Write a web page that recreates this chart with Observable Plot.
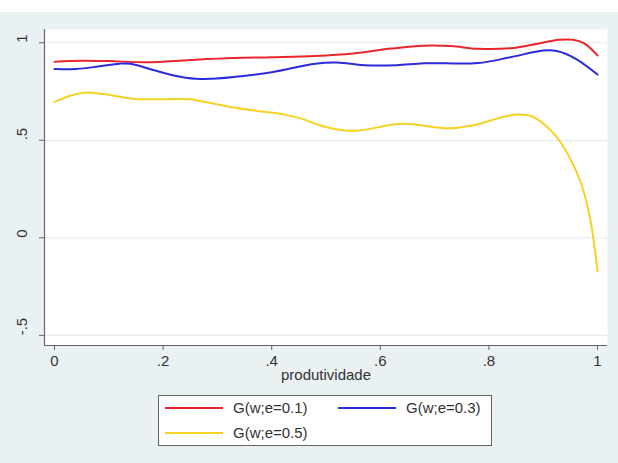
<!DOCTYPE html>
<html>
<head>
<meta charset="utf-8">
<script src="https://cdn.jsdelivr.net/npm/d3@7"></script>
<script src="https://cdn.jsdelivr.net/npm/@observablehq/plot@0.6"></script>
<style>
  html, body { margin: 0; padding: 0; background: #ffffff; }
  #wrap { position: absolute; left: 0; top: 12px; width: 618px; height: 451px; background: #eaf1f3; font-family: "Liberation Sans", Arial, sans-serif; }
  #legend { position: absolute; left: 158px; top: 383px; width: 334px; height: 51px; background: #fff; border: 1px solid #666; box-sizing: border-box; font-size: 15px; color: #333; }
  .item { position: absolute; display: flex; align-items: center; }
  .sw { width: 58px; height: 2px; margin-right: 10px; }
</style>
</head>
<body>
<div id="wrap"><div id="chart"></div><div id="legend"></div></div>
<script>
// Data
const seriesNames = ["G(w;e=0.1)", "G(w;e=0.3)", "G(w;e=0.5)"];
const seriesColors = ["#e8262c", "#2b2bdc", "#f6d126"];

const xRed = [0, 0.05, 0.1, 0.17, 0.25, 0.33, 0.4, 0.48, 0.55, 0.62, 0.68, 0.73, 0.78, 0.84, 0.88, 0.93, 0.955, 0.975, 1.0];
const yRed = [0.903, 0.908, 0.906, 0.900, 0.912, 0.922, 0.926, 0.932, 0.945, 0.970, 0.985, 0.983, 0.969, 0.972, 0.990, 1.015, 1.015, 0.998, 0.935];

const xBlue = [0, 0.04, 0.08, 0.12, 0.14, 0.18, 0.22, 0.26, 0.29, 0.33, 0.4, 0.48, 0.52, 0.57, 0.63, 0.68, 0.78, 0.84, 0.9, 0.925, 0.96, 1.0];
const yBlue = [0.865, 0.866, 0.878, 0.893, 0.892, 0.862, 0.832, 0.815, 0.816, 0.825, 0.849, 0.893, 0.899, 0.885, 0.885, 0.895, 0.896, 0.926, 0.960, 0.958, 0.918, 0.837];

const xYellow = [0, 0.03, 0.06, 0.09, 0.15, 0.25, 0.28, 0.33, 0.38, 0.41, 0.45, 0.49, 0.53, 0.56, 0.64, 0.72, 0.77, 0.82, 0.85, 0.88, 0.92, 0.945, 0.97, 0.987, 1.0];
const yYellow = [0.696, 0.730, 0.745, 0.737, 0.712, 0.710, 0.695, 0.668, 0.648, 0.639, 0.615, 0.576, 0.552, 0.550, 0.585, 0.562, 0.576, 0.615, 0.632, 0.622, 0.533, 0.431, 0.277, 0.089, -0.171];

const xTicks = [0, 0.2, 0.4, 0.6, 0.8, 1];
const xTickLabels = ["0", ".2", ".4", ".6", ".8", "1"];
const yTicks = [-0.5, 0, 0.5, 1];
const yTickLabels = ["-.5", "0", ".5", "1"];
const xTitle = "produtividade";

const xDomain = [-0.0184, 1.0184];
const yDomain = [-0.552, 1.068];

const rows = [];
[[xRed, yRed], [xBlue, yBlue], [xYellow, yYellow]].forEach(([xs, ys], s) => {
  xs.forEach((x, i) => rows.push({series: seriesNames[s], x, y: ys[i]}));
});

const chart = Plot.plot({
  width: 618,
  height: 451,
  marginTop: 17,
  marginLeft: 44,
  marginRight: 11,
  marginBottom: 118,
  style: {background: "#eaf1f3", fontFamily: "Liberation Sans, Arial, sans-serif", fontSize: "15px", color: "#333"},
  x: {domain: xDomain},
  y: {domain: yDomain},
  color: {domain: seriesNames, range: seriesColors},
  marks: [
    Plot.frame({fill: "#ffffff", stroke: null}),
    Plot.ruleY(yTicks, {stroke: "#e6eced", strokeWidth: 1.2}),
    Plot.line(rows, {x: "x", y: "y", z: "series", stroke: "series", strokeWidth: 2, curve: "catmull-rom"}),
    Plot.ruleX([xDomain[0]], {stroke: "#666", strokeWidth: 1.2}),
    Plot.ruleY([yDomain[0]], {stroke: "#666", strokeWidth: 1.2}),
    Plot.axisY({ticks: yTicks, tickSize: 5, stroke: "#666", text: null, label: null}),
    Plot.text(yTicks, {y: d => d, text: (d, i) => yTickLabels[i], frameAnchor: "left", dx: -22, rotate: -90, fill: "#333", fontSize: 15}),
    Plot.axisX({ticks: xTicks, tickFormat: (d, i) => xTickLabels[i], tickSize: 5, tickPadding: 5, stroke: "#666", fill: "#333", label: null}),
    Plot.text([xTitle], {frameAnchor: "bottom", dy: 34, text: d => d, fill: "#333", fontSize: 15})
  ]
});
document.getElementById("chart").appendChild(chart);

const legend = document.getElementById("legend");
const pos = [[6, 3], [179, 3], [6, 28]];
seriesNames.forEach((name, i) => {
  const it = document.createElement("div");
  it.className = "item";
  it.style.left = pos[i][0] + "px";
  it.style.top = pos[i][1] + "px";
  const sw = document.createElement("div");
  sw.className = "sw";
  sw.style.background = seriesColors[i];
  const tx = document.createElement("span");
  tx.textContent = name;
  it.appendChild(sw);
  it.appendChild(tx);
  legend.appendChild(it);
});
</script>
</body>
</html>
